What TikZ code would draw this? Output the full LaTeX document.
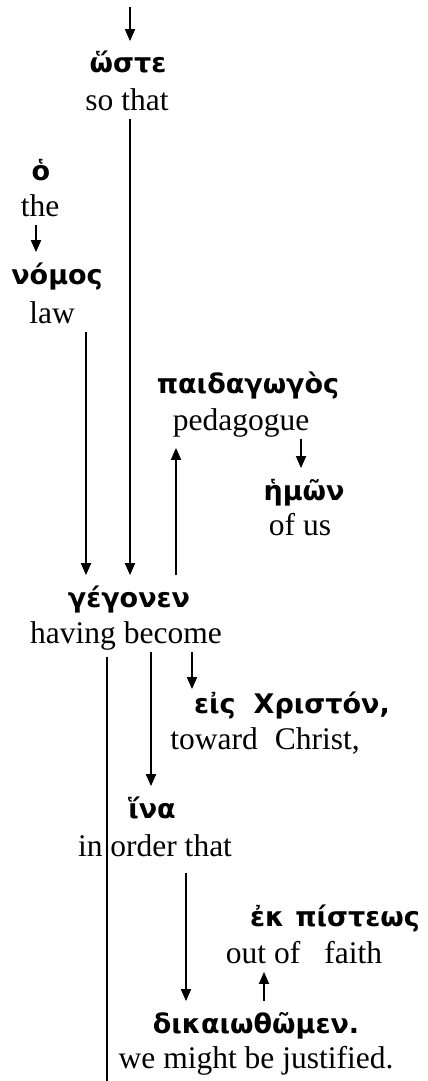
\documentclass[tikz,border=0pt]{standalone}
\usepackage{fontspec}
\setmainfont{Liberation Serif}
\newfontfamily\gkfont{DejaVu Sans}
\usetikzlibrary{arrows.meta, calc, positioning}

\tikzset{
  gk/.style={font=\gkfont\bfseries\fontsize{27}{30}\selectfont, anchor=base, inner sep=0pt, text height=31pt},
  en/.style={font=\fontsize{31.5}{36}\selectfont, anchor=base, inner sep=0pt, text depth=8pt},
}

\begin{document}
\begin{tikzpicture}[x=1pt, y=-1pt, ->, >={Triangle[length=12pt,width=10pt]}, line width=1.8pt]
  \useasboundingbox (0,0) rectangle (428,1081);

  \coordinate (top) at (130,7);
  \node[gk] (hoste) at (128,73) {ὥστε};
  \node[en] (sothat) at (127,110) {so that};
  \node[gk] (ho) at (41,180) {ὁ};
  \node[en] (the) at (40,216) {the};
  \node[gk] (nomos) at (57,284) {νόμος};
  \node[en] (law) at (52,323) {law};
  \node[gk] (paid) at (248,393) {παιδαγωγὸς};
  \node[en] (pedag) at (241,430) {pedagogue};
  \node[gk] (hmwn) at (304,500) {ἡμῶν};
  \node[en] (ofus) at (300,535) {of us};
  \node[gk] (geg) at (129,607) {γέγονεν};
  \node[en] (havbec) at (126,643) {having become};
  \node[gk] (eis) at (292,713) {εἰς\hspace{18pt}Χριστόν,};
  \node[en] (toward) at (265,749) {toward\hspace{17pt}Christ,};
  \node[gk] (hina) at (152,818) {ἵνα};
  \node[en] (inorder) at (155,856) {in order that};
  \node[gk] (ekp) at (335,926) {ἐκ\hspace{11pt}πίστεως};
  \node[en] (outof) at (304,963) {out of\hspace{24pt}faith};
  \node[gk] (dik) at (256,1033) {δικαιωθῶμεν.};
  \node[en] (wemight) at (256,1068) {we might be justified.};
  \coordinate (bot) at (107,1081);

  % main line down to the verb
  \draw (top) -- (top |- hoste.north);
  \draw (sothat.south -| top) -- (geg.north -| top);
  \draw (the.south -| 36,0) -- (nomos.north -| 36,0);
  \draw (law.south -| 86,0) -- (geg.north -| 86,0);
  \draw (geg.north -| 176,0) -- ($(pedag.south -| 176,0)+(0,9)$);
  \draw (pedag.south -| 301,0) -- (hmwn.north -| 301,0);

  % what hangs below the verb
  \draw (havbec.south -| 192,0) -- ($(eis.north -| 192,0)+(0,8)$);
  \draw (havbec.south -| 151,0) -- (hina.north -| 151,0);
  \draw[-] ($(havbec.south -| bot)+(0,5)$) -- (bot);
  \draw ($(inorder.south -| 186,0)+(0,8)$) -- (dik.north -| 186,0);
  \draw (dik.north -| 264,0) -- (outof.south -| 264,0);
\end{tikzpicture}
\end{document}
